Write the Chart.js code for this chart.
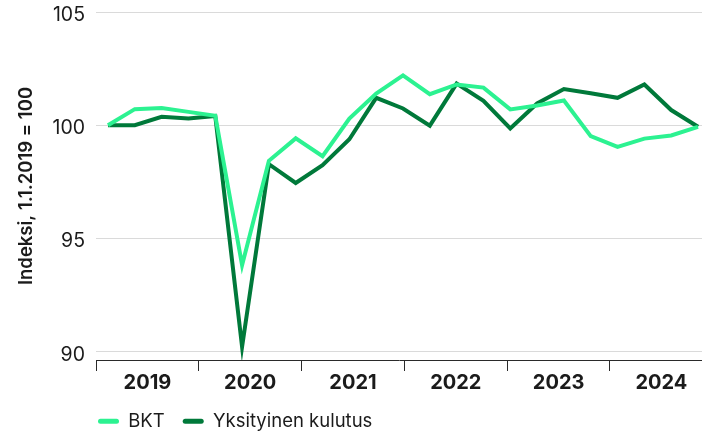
<!DOCTYPE html>
<html lang="fi">
<head>
<meta charset="utf-8">
<title>BKT ja yksityinen kulutus</title>
<script src="https://cdn.jsdelivr.net/npm/chart.js@4.4.1/dist/chart.umd.min.js"></script>
<style>
  html, body { margin: 0; padding: 0; background: #fff; }
  #wrap { width: 702px; height: 433px; position: relative; }
</style>
</head>
<body>
<div id="wrap"><canvas id="kulutus"></canvas></div>
<script>
// Neljännesvuodet 2019Q1 - 2024Q3, indeksi 1.1.2019 = 100
const quarters = [
  "2019Q1", "2019Q2", "2019Q3", "2019Q4",
  "2020Q1", "2020Q2", "2020Q3", "2020Q4",
  "2021Q1", "2021Q2", "2021Q3", "2021Q4",
  "2022Q1", "2022Q2", "2022Q3", "2022Q4",
  "2023Q1", "2023Q2", "2023Q3", "2023Q4",
  "2024Q1", "2024Q2", "2024Q3"
];

const bkt = [
  100, 100.71, 100.76, 100.59,
  100.42, 93.82, 98.43, 99.42,
  98.63, 100.29, 101.4, 102.2,
  101.37, 101.8, 101.66, 100.7,
  100.87, 101.09, 99.52, 99.04,
  99.41, 99.55, 99.93
];

const kulutus = [
  100, 100.0, 100.37, 100.3,
  100.41, 90.22, 98.28, 97.45,
  98.24, 99.38, 101.21, 100.74,
  99.98, 101.84, 101.08, 99.86,
  100.96, 101.6, 101.41, 101.21,
  101.8, 100.67, 99.93
];

const years = ["2019", "2020", "2021", "2022", "2023", "2024"];
const yTicks = [90, 95, 100, 105];

const lightGreen = "#2cf291";
const darkGreen = "#00793a";
const textColor = "#1b1b1b";
const fontFamily = "Inter, 'Noto Sans', sans-serif";

function toPoints(values) {
  return values.map((v, i) => ({ x: i, y: v }));
}

// legend sits under the plot, lined up with the y axis
const legendPlacement = {
  id: "legendPlacement",
  afterLayout(chart) {
    const legend = chart.legend;
    const w = legend.width;
    legend.left = 80;
    legend.right = legend.left + w;
    legend.top = 394;
    legend.bottom = 433;
  },
};

const ctx = document.getElementById("kulutus");

new Chart(ctx, {
  type: "line",
  data: {
    labels: quarters,
    datasets: [
      {
        label: "BKT",
        data: toPoints(bkt),
        borderColor: lightGreen,
        backgroundColor: lightGreen,
        borderWidth: 4,
        pointRadius: 0,
        tension: 0,
        borderJoinStyle: "miter",
      },
      {
        label: "Yksityinen kulutus",
        data: toPoints(kulutus),
        borderColor: darkGreen,
        backgroundColor: darkGreen,
        borderWidth: 4,
        pointRadius: 0,
        tension: 0,
        borderJoinStyle: "miter",
      },
    ],
  },
  options: {
    responsive: true,
    maintainAspectRatio: false,
    animation: false,
    layout: { padding: 0 },
    scales: {
      x: {
        type: "linear",
        display: false,
        min: -0.447,
        max: 22.149,
      },
      years: {
        type: "linear",
        position: "bottom",
        min: 0,
        max: 5.895,
        afterBuildTicks(scale) {
          const t = [];
          for (let i = 0; i < years.length; i++) {
            t.push({ value: i });
            t.push({ value: i + 0.5 });
          }
          scale.ticks = t;
        },
        afterFit(scale) {
          scale.height = 40;
        },
        border: { display: true, color: "#2a2a2a", width: 1 },
        grid: {
          drawOnChartArea: false,
          drawTicks: true,
          tickLength: 11,
          tickWidth: 1,
          tickColor: (c) => (c.tick && Number.isInteger(c.tick.value) ? "#2a2a2a" : "rgba(0,0,0,0)"),
        },
        ticks: {
          autoSkip: false,
          maxRotation: 0,
          padding: 0,
          color: textColor,
          font: { family: fontFamily, size: 20, weight: "700" },
          callback: (value) => (Number.isInteger(value) ? "" : years[Math.floor(value)]),
        },
      },
      y: {
        min: 89.633,
        max: 105,
        afterBuildTicks(scale) {
          scale.ticks = yTicks.map((v) => ({ value: v }));
        },
        afterFit(scale) {
          scale.width = 96;
          // keep the top gridline close to the canvas edge
          scale.paddingTop = 12;
          scale.paddingBottom = 0;
        },
        border: { display: false },
        grid: { color: "#dadada", lineWidth: 1, drawTicks: false },
        ticks: {
          padding: 11,
          labelOffset: 3,
          color: textColor,
          font: { family: fontFamily, size: 19.5 },
        },
        title: {
          display: true,
          text: "Indeksi, 1.1.2019 = 100",
          color: textColor,
          padding: { top: 15, bottom: 0 },
          font: { family: fontFamily, size: 18.5, weight: "600" },
        },
      },
    },
    plugins: {
      legend: {
        position: "bottom",
        align: "start",
        maxHeight: 33,
        labels: {
          boxWidth: 21,
          boxHeight: 5,
          useBorderRadius: true,
          borderRadius: 2.5,
          padding: 18,
          color: textColor,
          font: { family: fontFamily, size: 18.5, lineHeight: 1 },
          generateLabels(chart) {
            const items = Chart.defaults.plugins.legend.labels.generateLabels(chart);
            items.forEach((it) => {
              it.lineWidth = 0;
              it.fillStyle = it.strokeStyle;
            });
            return items;
          },
        },
      },
      tooltip: {
        callbacks: {
          title: (items) => quarters[items[0].parsed.x],
        },
      },
    },
  },
  plugins: [legendPlacement],
});
</script>
</body>
</html>
